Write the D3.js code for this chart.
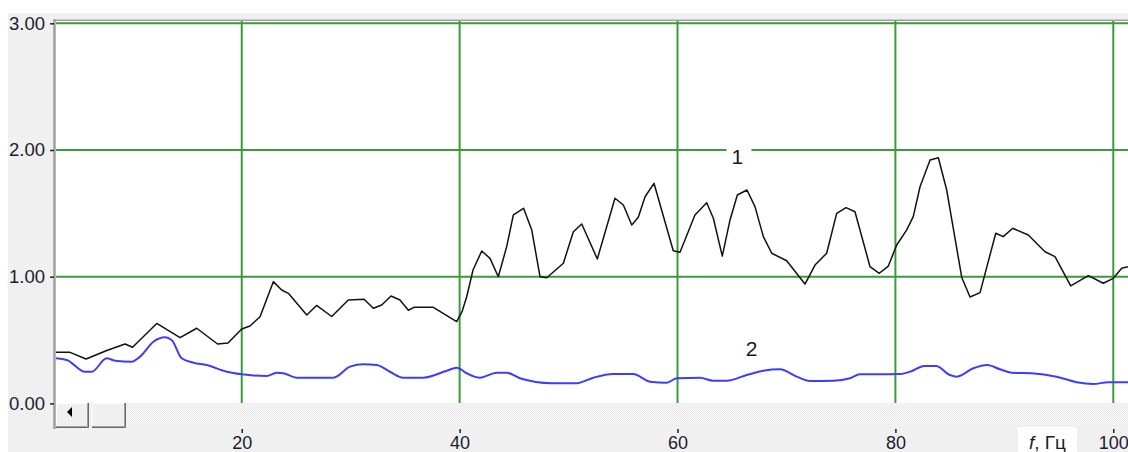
<!DOCTYPE html>
<html>
<head>
<meta charset="utf-8">
<script src="https://cdn.jsdelivr.net/npm/d3@7"></script>
<style>
  html, body { margin: 0; padding: 0; background: #ffffff; }
  svg { display: block; }
  text { font-family: "Liberation Sans", Arial, sans-serif; }
</style>
</head>
<body>
<svg id="chart" width="1128" height="452"></svg>
<script>
// Spectrum 1 (black): frequency in Hz and amplitude
const freq1 = [2.86, 4.24, 5.71, 7.61, 9.29, 9.98, 12.20, 14.34, 15.87, 17.78, 18.74, 20.0, 20.76, 21.68,
  22.90, 23.67, 24.28, 25.97, 26.87, 28.26, 29.78, 31.23, 32.08, 32.85, 33.70, 34.53, 35.29, 35.81, 37.59,
  39.73, 40.22, 40.65, 41.23, 42.03, 42.79, 43.55, 44.32, 44.93, 45.87, 46.62, 47.38, 48.0, 49.52, 50.44,
  51.21, 52.64, 54.26, 55.03, 55.80, 56.40, 57.02, 57.84, 59.61, 60.23, 61.60, 62.68, 63.29, 64.11, 64.82,
  65.49, 66.38, 67.11, 67.88, 68.65, 70.02, 71.70, 72.62, 73.69, 74.61, 75.47, 76.29, 77.67, 78.52, 79.35,
  80.12, 81.04, 81.64, 82.26, 83.18, 83.94, 84.71, 86.09, 86.85, 87.77, 89.21, 89.90, 90.77, 92.20, 93.73,
  94.65, 96.09, 97.71, 99.08, 100.0, 100.77, 101.35];
const amp1 = [0.403, 0.403, 0.350, 0.418, 0.469, 0.443, 0.631, 0.519, 0.593, 0.469, 0.477, 0.587, 0.611, 0.684,
  0.961, 0.895, 0.869, 0.698, 0.773, 0.686, 0.816, 0.822, 0.751, 0.777, 0.848, 0.816, 0.735, 0.758, 0.758,
  0.646, 0.724, 0.842, 1.053, 1.203, 1.145, 1.000, 1.237, 1.487, 1.540, 1.369, 1.000, 0.992, 1.106, 1.355,
  1.416, 1.140, 1.619, 1.566, 1.408, 1.469, 1.631, 1.737, 1.205, 1.193, 1.487, 1.584, 1.461, 1.163, 1.448,
  1.645, 1.684, 1.553, 1.316, 1.185, 1.126, 0.942, 1.092, 1.185, 1.500, 1.545, 1.513, 1.079, 1.027, 1.084,
  1.250, 1.369, 1.474, 1.710, 1.921, 1.939, 1.684, 0.994, 0.840, 0.874, 1.343, 1.316, 1.382, 1.329, 1.197,
  1.158, 0.927, 1.008, 0.948, 0.987, 1.066, 1.079];

// Spectrum 2 (blue)
const freq2 = [2.86, 3.94, 5.62, 6.23, 7.61, 8.37, 9.90, 10.67, 11.89, 12.96, 13.57, 14.49, 15.56, 16.79,
  18.62, 20.0, 22.29, 23.21, 23.82, 25.05, 28.41, 29.94, 31.16, 32.39, 33.61, 34.83, 36.67, 38.82, 39.73,
  40.65, 41.87, 43.41, 44.32, 45.54, 48.45, 50.75, 52.27, 54.11, 55.94, 57.47, 59.01, 59.92, 62.06, 63.29,
  64.52, 66.35, 67.87, 69.41, 70.94, 72.16, 74.30, 75.83, 76.74, 78.28, 80.42, 81.53, 82.63, 83.73, 85.01,
  85.63, 87.15, 88.44, 89.60, 90.67, 92.51, 94.80, 96.64, 98.16, 99.54, 101.35];
const amp2 = [0.356, 0.343, 0.250, 0.250, 0.356, 0.337, 0.329, 0.369, 0.487, 0.522, 0.500, 0.356, 0.321, 0.303,
  0.250, 0.230, 0.216, 0.242, 0.238, 0.203, 0.203, 0.290, 0.309, 0.303, 0.250, 0.203, 0.203, 0.258, 0.282,
  0.238, 0.203, 0.242, 0.242, 0.198, 0.159, 0.159, 0.203, 0.232, 0.232, 0.171, 0.163, 0.198, 0.203, 0.179,
  0.179, 0.224, 0.258, 0.269, 0.211, 0.177, 0.179, 0.198, 0.230, 0.230, 0.232, 0.256, 0.295, 0.295, 0.224,
  0.211, 0.277, 0.303, 0.269, 0.242, 0.238, 0.211, 0.167, 0.153, 0.167, 0.167];

const yTicks = [0, 1, 2, 3];
const xTicks = [20, 40, 60, 80, 100];
const xTitle = ["f", ", Гц"];
const curveLabels = [
  { text: "1", f: 65.5, v: 1.95, boxed: true },
  { text: "2", f: 66.8, v: 0.43, boxed: false }
];

const svg = d3.select("#chart");
const W = 1128, H = 452;
const plot = { left: 55, right: 1128, top: 21, bottom: 403 };
const sbBottom = 428;

const x = d3.scaleLinear().domain([2.86, 101.35]).range([plot.left, plot.right]);
const y = d3.scaleLinear().domain([0, 3]).range([403.4, 23.3]);

// window panel
svg.append("rect").attr("x", 8).attr("y", 13).attr("width", W - 8).attr("height", H - 13).attr("fill", "#f0f0f0");

// plot background
svg.append("rect").attr("x", plot.left).attr("y", plot.top)
  .attr("width", plot.right - plot.left).attr("height", plot.bottom - plot.top).attr("fill", "#ffffff");

const defs = svg.append("defs");
defs.append("clipPath").attr("id", "plotClip").append("rect")
  .attr("x", plot.left + 1).attr("y", plot.top).attr("width", plot.right - plot.left).attr("height", plot.bottom - plot.top);

const pat = defs.append("pattern").attr("id", "track").attr("width", 2).attr("height", 2).attr("patternUnits", "userSpaceOnUse");
pat.append("rect").attr("width", 2).attr("height", 2).attr("fill", "#fafafa");
pat.append("rect").attr("width", 1).attr("height", 1).attr("fill", "#e8e8e8");
pat.append("rect").attr("x", 1).attr("y", 1).attr("width", 1).attr("height", 1).attr("fill", "#e8e8e8");

const g = svg.append("g").attr("clip-path", "url(#plotClip)");

// grid
const gridColor = "#3a9b3a";
g.selectAll("line.hgrid").data(yTicks.filter(d => d > 0)).join("line")
  .attr("x1", plot.left).attr("x2", plot.right)
  .attr("y1", d => y(d)).attr("y2", d => y(d))
  .attr("stroke", gridColor).attr("stroke-width", 2);
g.selectAll("line.vgrid").data(xTicks).join("line")
  .attr("x1", d => x(d)).attr("x2", d => x(d))
  .attr("y1", plot.top).attr("y2", plot.bottom)
  .attr("stroke", gridColor).attr("stroke-width", 2);

// curve label "1" sits on a white box that interrupts the grid line
curveLabels.filter(d => d.boxed).forEach(d => {
  g.append("rect").attr("x", x(d.f) - 11).attr("y", y(d.v) - 10).attr("width", 25).attr("height", 20).attr("fill", "#ffffff");
});

const line = d3.line().x(d => x(d[0])).y(d => y(d[1]));
const smoothLine = d3.line().x(d => x(d[0])).y(d => y(d[1])).curve(d3.curveMonotoneX);
g.append("path").datum(d3.zip(freq2, amp2)).attr("d", smoothLine)
  .attr("fill", "none").attr("stroke", "#3c3cff").attr("stroke-width", 2).attr("stroke-linejoin", "round");
g.append("path").datum(d3.zip(freq1, amp1)).attr("d", line)
  .attr("fill", "none").attr("stroke", "#111111").attr("stroke-width", 1.5).attr("stroke-linejoin", "round");

g.selectAll("text.clabel").data(curveLabels).join("text")
  .attr("x", d => x(d.f)).attr("y", d => y(d.v))
  .attr("text-anchor", "middle").attr("dominant-baseline", "central")
  .attr("font-size", 21).attr("fill", "#1a1a1a").text(d => d.text);

// plot frame (left and top edges)
svg.append("line").attr("x1", 54.5).attr("x2", 54.5).attr("y1", 19).attr("y2", sbBottom + 1)
  .attr("stroke", "#a0a0a0").attr("stroke-width", 2.5);
svg.append("line").attr("x1", 54).attr("x2", W).attr("y1", 20.2).attr("y2", 20.2)
  .attr("stroke", "#a0a0a0").attr("stroke-width", 1.6);

// horizontal scrollbar
svg.append("rect").attr("x", 56).attr("y", plot.bottom).attr("width", W - 56).attr("height", sbBottom - plot.bottom)
  .attr("fill", "url(#track)");
function button(x0, w) {
  const b = svg.append("g");
  b.append("rect").attr("x", x0).attr("y", plot.bottom).attr("width", w).attr("height", sbBottom - plot.bottom).attr("fill", "#f0f0f0");
  b.append("path").attr("d", `M${x0 + 0.5},${sbBottom - 1}V${plot.bottom + 0.5}H${x0 + w - 1}`).attr("fill", "none").attr("stroke", "#ffffff");
  b.append("path").attr("d", `M${x0},${sbBottom - 1.5}H${x0 + w - 1.5}V${plot.bottom}`).attr("fill", "none").attr("stroke", "#a0a0a0");
  b.append("path").attr("d", `M${x0},${sbBottom - 0.5}H${x0 + w - 0.5}V${plot.bottom}`).attr("fill", "none").attr("stroke", "#696969");
  return b;
}
button(56, 33);
button(92, 34);
svg.append("path").attr("d", "M67,412L72,407V417Z").attr("fill", "#000000");

// y axis
const yAxis = svg.append("g").attr("transform", `translate(${plot.left - 1},0)`)
  .call(d3.axisLeft(y).tickValues(yTicks).tickFormat(d3.format(".2f")).tickSize(4).tickPadding(5));
yAxis.select(".domain").remove();
yAxis.selectAll(".tick line").attr("stroke", "#222").attr("stroke-width", 1.5);
yAxis.selectAll(".tick text").attr("font-size", 18.5).attr("fill", "#1c1c30")
  .attr("font-family", "'Liberation Sans', Arial, sans-serif");

// x axis
const xAxis = svg.append("g").attr("transform", `translate(0,${sbBottom + 1})`)
  .call(d3.axisBottom(x).tickValues(xTicks).tickFormat(d3.format("d")).tickSize(4).tickPadding(3));
xAxis.select(".domain").remove();
xAxis.selectAll(".tick line").attr("stroke", "#222").attr("stroke-width", 1.5);
xAxis.selectAll(".tick text").attr("font-size", 18).attr("fill", "#1c1c30")
  .attr("font-family", "'Liberation Sans', Arial, sans-serif");

// x axis title on its own white box
svg.append("rect").attr("x", 1018).attr("y", 427).attr("width", 59).attr("height", 25).attr("fill", "#ffffff");
const t = svg.append("text").attr("x", 1047.5).attr("y", 449).attr("text-anchor", "middle")
  .attr("font-size", 19).attr("fill", "#1c1c30");
t.append("tspan").attr("font-style", "italic").text(xTitle[0]);
t.append("tspan").text(xTitle[1]);
</script>
</body>
</html>
